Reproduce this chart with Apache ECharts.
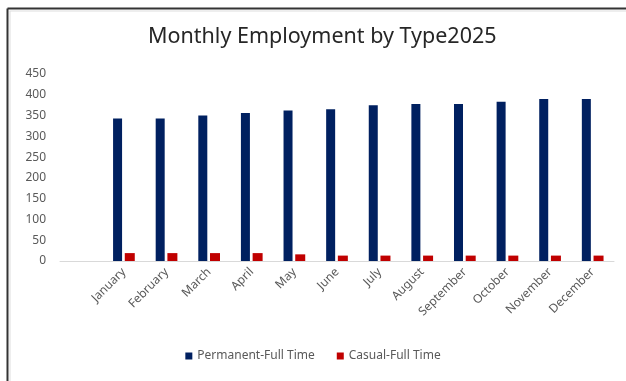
<!DOCTYPE html>
<html>
<head>
<meta charset="utf-8">
<script src="https://cdn.jsdelivr.net/npm/echarts@6/dist/echarts.min.js"></script>
<style>
  html, body { margin: 0; padding: 0; background: #fff; }
  #chart { width: 626px; height: 381px; }
</style>
</head>
<body>
<div id="chart"></div>
<script>
  // first slot is an empty category, like the source sheet
  var months = ['January', 'February', 'March', 'April', 'May', 'June', 'July',
    'August', 'September', 'October', 'November', 'December']
  var permanentFT = [343, 343, 350, 356, 362, 365, 375, 378, 378, 383, 390, 390]
  var casualFT = [19, 19, 19, 19, 16, 13, 13, 13, 13, 13, 13, 13]
  var yTicks = [0, 50, 100, 150, 200, 250, 300, 350, 400, 450]

  var myChart = echarts.init(document.getElementById('chart'))
  var gray = '#595959'
  var font = 'Noto Sans'

  var option = {
    animation: false,
    title: {
      text: 'Monthly Employment by Type2025',
      left: 148,
      top: 26,
      padding: 0,
      textStyle: { fontFamily: font, fontSize: 21.5, fontWeight: 'normal', color: '#262626' }
    },
    graphic: [
      { type: 'line', shape: { x1: 7.5, y1: 8.5, x2: 626, y2: 8.5 }, style: { stroke: '#333', lineWidth: 2 } },
      { type: 'line', shape: { x1: 7.5, y1: 8.5, x2: 7.5, y2: 381 }, style: { stroke: '#333', lineWidth: 2 } },
      { type: 'line', shape: { x1: 9.5, y1: 11, x2: 626, y2: 11 }, style: { stroke: '#ddd', lineWidth: 1 } },
      { type: 'line', shape: { x1: 10, y1: 11, x2: 10, y2: 381 }, style: { stroke: '#ddd', lineWidth: 1 } }
    ],
    legend: {
      bottom: 14,
      left: 'center',
      itemWidth: 7,
      itemHeight: 7,
      itemGap: 22,
      icon: 'rect',
      textStyle: { fontFamily: font, fontSize: 12, color: gray }
    },
    grid: { left: 60, right: 12, top: 74, bottom: 120, containLabel: false },
    xAxis: {
      type: 'category',
      data: [''].concat(months),
      axisTick: { show: false },
      axisLine: { lineStyle: { color: '#d9d9d9' } },
      axisLabel: {
        interval: 0,
        rotate: 45,
        margin: 9,
        fontFamily: font,
        fontSize: 12,
        color: gray
      }
    },
    yAxis: {
      type: 'value',
      min: yTicks[0],
      max: yTicks[yTicks.length - 1],
      interval: 50,
      splitLine: { show: false },
      axisLine: { show: false },
      axisTick: { show: false },
      axisLabel: { fontFamily: font, fontSize: 12, color: gray, margin: 14 }
    },
    series: [
      {
        name: 'Permanent-Full Time',
        type: 'bar',
        data: [null].concat(permanentFT),
        barWidth: 9,
        barGap: '30%',
        itemStyle: { color: '#002060' }
      },
      {
        name: 'Casual-Full Time',
        type: 'bar',
        data: [null].concat(casualFT),
        barWidth: 10,
        itemStyle: { color: '#C00000' }
      }
    ]
  }
  myChart.setOption(option)
</script>
</body>
</html>
